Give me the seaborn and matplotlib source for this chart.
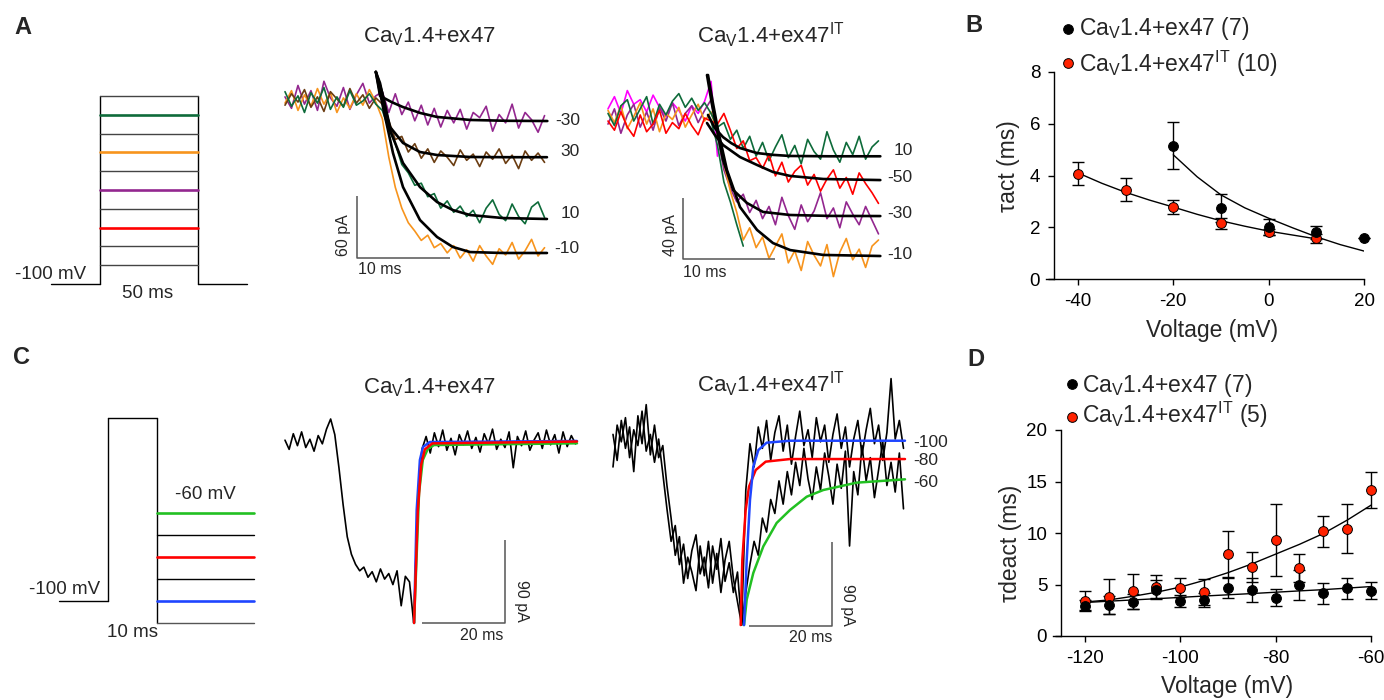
import numpy as np
import matplotlib
matplotlib.use("Agg")
import matplotlib.pyplot as plt
from matplotlib.lines import Line2D
import seaborn as sns

# ======================= DATA =======================
# ---- Panel B : activation time constants ----
act_v_wt = [-20, -10, 0, 10, 20]
act_tau_wt = [5.15, 2.75, 2.0, 1.8, 1.58]
act_err_wt = [0.9, 0.55, 0.3, 0.25, 0.0]
act_v_it = [-40, -30, -20, -10, 0, 10]
act_tau_it = [4.07, 3.45, 2.8, 2.15, 1.83, 1.58]
act_err_it = [0.45, 0.45, 0.27, 0.2, 0.12, 0.17]
act_fit_v_wt = [-20, -15, -10, -5, 0, 5, 10, 15, 20]
act_fit_wt = [4.8, 3.95, 3.25, 2.75, 2.35, 1.98, 1.63, 1.33, 1.08]
act_fit_v_it = [-40, -35, -30, -25, -20, -15, -10, -5, 0, 5, 10]
act_fit_it = [4.1, 3.7, 3.35, 3.05, 2.78, 2.5, 2.25, 2.04, 1.85, 1.7, 1.55]

# ---- Panel D : deactivation time constants ----
deact_v = [-120, -115, -110, -105, -100, -95, -90, -85, -80, -75, -70, -65, -60]
deact_tau_wt = [2.95, 3.0, 3.33, 4.5, 3.4, 3.5, 4.7, 4.47, 3.72, 4.95, 4.14, 4.63, 4.4]
deact_err_wt = [0.5, 0.85, 0.7, 0.9, 0.6, 0.7, 1.0, 1.2, 0.8, 1.45, 1.0, 1.0, 0.8]
deact_tau_it = [3.43, 3.82, 4.34, 4.8, 4.7, 4.24, 7.93, 6.67, 9.29, 6.57, 10.16, 10.42, 14.14]
deact_err_it = [0.94, 1.7, 1.7, 1.15, 0.9, 1.25, 2.3, 1.45, 3.5, 1.35, 1.5, 2.35, 1.75]
deact_fit_v = [-120, -115, -110, -105, -100, -95, -90, -85, -80, -75, -70, -65, -60]
deact_fit_wt = [3.25, 3.38, 3.5, 3.62, 3.75, 3.88, 4.0, 4.12, 4.25, 4.38, 4.5, 4.65, 4.8]
deact_fit_it = [3.3, 3.5, 3.85, 4.25, 4.75, 5.4, 6.15, 7.0, 7.95, 8.9, 9.95, 11.25, 12.7]

# ---- Panel A : activation current traces (ms, pA) ----
tA_wt = list(np.round(np.arange(41) * 0.7, 2))
trA_wt_m30 = [3, -8, 14, -4, 9, -10, 18, 2, -6, 12, -9, 5, 16, -3, 4, 8, -12, 6, -14, -2,
              -20, -5, -24, -8, -26, -10, -22, -9, -28, -12, -17, -6, -30, -14, -22, -4, -27, -12, -19, -31, -15]
trA_wt_30 = [-5, 6, -2, 10, -7, 3, -11, 8, 1, -6, 11, -3, 5, -8, 2, -4, -20, -38, -35, -50,
             -42, -56, -47, -60, -49, -55, -63, -48, -58, -52, -64, -50, -57, -47, -61, -53, -66, -49, -58, -51, -60]
trA_wt_10 = [8, -6, 4, -12, 7, -3, 12, -9, 3, -7, 9, -5, -1, 6, -4, -10, -28, -42, -62, -70,
             -82, -80, -93, -90, -104, -97, -108, -102, -112, -106, -118, -104, -96, -110, -116, -100, -112, -119, -103, -98, -113]
trA_wt_m10 = [-3, 9, -10, 5, -6, 11, -4, 7, -12, 2, -8, 6, -5, 10, -2, -18, -55, -84, -104, -118,
              -126, -135, -130, -142, -138, -147, -140, -152, -144, -155, -140, -150, -158, -143, -149, -137, -153, -145, -134, -150, -142]
fitA_wt_m30_t = [9.8, 10.25, 11.5, 12.7, 14.6, 16.4, 20.0, 24.0, 28.3]
fitA_wt_m30 = [27, 4, -2, -6.7, -12.5, -16.3, -19.2, -20.0, -20.2]
fitA_wt_30_t = [9.8, 10.46, 11.33, 12.73, 14.56, 16.4, 19.96, 24.0, 28.26]
fitA_wt_30 = [27, 7.7, -26, -41.3, -50, -52.9, -54.8, -55, -55]
fitA_wt_10_t = [9.8, 10.25, 11.33, 12.73, 14.56, 16.4, 18.1, 19.96, 23.5, 28.26]
fitA_wt_10 = [27, 16.3, -28.8, -60.6, -83.7, -98.1, -105.8, -110.6, -113.5, -114.4]
fitA_wt_m10_t = [9.8, 10.57, 11.65, 12.73, 14.56, 16.4, 18.1, 19.96, 23.5, 28.26]
fitA_wt_m10 = [27, -6.7, -51, -83.7, -115.4, -131.7, -141.3, -146.2, -147.1, -147.1]
labelsA_wt = ["-30", "30", "10", "-10"]
labelsA_wt_y = [-19.7, -50, -109.6, -142.8]

tA_it = list(np.round(np.arange(43) * 0.7, 2))
trA_it_m50 = [-2, -8, 4, -6, -12, 2, -9, -4, 5, -10, -3, -7, 3, -5, -11, 0, -2, -4, 3, -8,
              -20, -15, -28, -26, -33, -24, -38, -29, -42, -35, -31, -44, -37, -48, -40, -34, -46, -39, -50, -36, -43, -49, -56]
trA_it_10 = [3, -5, 8, 12, -2, 6, 14, -4, 9, 2, 11, 16, 7, 13, 5, 10, 3, -6, -3, -14,
             -8, -20, -12, -25, -16, -28, -19, -11, -26, -18, -30, -14, -22, -27, -9, -21, -29, -16, -24, -12, -27, -19, -15]
trA_it_m30 = [-4, 6, -10, 2, 9, -6, 4, -8, 7, -2, 10, -5, 3, 8, -3, 5, 12, -12, -34, -46,
              -55, -50, -62, -54, -66, -58, -70, -52, -64, -73, -57, -68, -61, -49, -66, -59, -72, -55, -63, -70, -58, -67, -76]
trA_it_m10 = [5, -3, 8, -7, 1, 10, -4, 6, -9, 3, -1, 7, -6, 2, 9, -2, 4, -10, -30, -48,
              -62, -80, -72, -85, -78, -92, -84, -76, -95, -87, -100, -81, -90, -97, -83, -104, -88, -79, -93, -86, -98, -84, -80]
trA_it_seg = [-2, -18, -42, -55, -70, -84]          # samples 16..21
trA_it_mag = [6, 14, 3, 18, 9, 12, 4, 15, 7, 1, 10, 5, -2, 8, 3, 11, 24, -25]   # samples 0..17
fitA_it_10_t = [10.87, 11.6, 12.5, 13.4, 14.35, 16.2, 18.0, 19.8, 24.0, 29.6]
fitA_it_10 = [2, -6.5, -12.5, -16.5, -19.7, -23.0, -24.2, -24.9, -25.1, -25.1]
fitA_it_m50_t = [10.76, 11.6, 12.5, 14.35, 16.2, 17.93, 19.8, 23.4, 29.6]
fitA_it_m50 = [-3.3, -11, -17.7, -25.6, -30.8, -35.4, -38, -40, -40.7]
fitA_it_m30_t = [10.76, 11.3, 11.85, 12.5, 13.6, 15.1, 16.85, 19.8, 24.0, 29.6]
fitA_it_m30 = [28.2, 9, -7.9, -27.5, -47.2, -55.7, -61.6, -63.6, -64.2, -64.3]
fitA_it_m10_t = [10.87, 11.4, 11.96, 12.93, 14.35, 16.2, 17.93, 19.8, 23.4, 29.6]
fitA_it_m10 = [28.2, 10, -7.9, -34.1, -58.4, -73.4, -82, -86.6, -89.8, -90.5]
labelsA_it = ["10", "-50", "-30", "-10"]
labelsA_it_y = [-21.6, -39.0, -62.3, -89.2]

# ---- Panel C : tail current traces (ms, pA) ----
tC = list(np.arange(71) * 1.0)
trC_wt = [2, -8, 9, -4, 11, -6, 3, -10, 7, -2, 14, 25, 8, -28, -68, -103, -122, -133, -140, -136,
          -147, -141, -152, -138, -149, -143, -155, -140, -178, -146, -152, -196, -70, -8, 6, -12, 10, -5, 13, -9,
          4, -14, 8, -3, 12, -7, 5, -11, 9, -2, 14, -8, 3, -6, 11, -28, 6, -4, 12, -9,
          2, 10, -7, 13, -3, 8, -12, 11, -5, 7, -2]
fitC_wt_blue_t = [31.1, 31.73, 32.5, 33.25, 34.9, 70.36]
fitC_wt_blue = [-196.7, -73.9, -19.6, -5.4, 0, 1.1]
fitC_wt_red_t = [31.1, 32.0, 32.8, 33.7, 35.5, 70.36]
fitC_wt_red = [-196.7, -75, -25, -8, -1.5, 0.5]
fitC_wt_green_t = [31.1, 32.3, 33.2, 34.4, 35.9, 70.36]
fitC_wt_green = [-196.7, -55.4, -19.6, -7.6, -3.3, -1.4]

trC_it_1 = [-15, 30, 12, 38, -5, 25, 8, 45, 2, 20, -10, 15, -22, -60, -95, -78, -120, -98, -135, -105,
            -88, -130, -112, -145, -100, -125, -92, -138, -118, -150, -128, -185, -40, 10, -15, 28, 5, 35, -8, 22,
            40, 2, 30, -12, 18, 45, 8, 25, -5, 38, 12, 30, -10, 20, 42, 5, 28, -15, 15, 35,
            -2, 25, 48, 10, 30, -8, 22, 80, 15, 35, 5]
trC_it_2 = [20, -8, 35, 5, 28, -20, 40, 10, 52, -2, 30, -5, 8, -35, -70, -110, -90, -140, -112, -128,
            -148, -100, -132, -95, -140, -108, -150, -115, -95, -135, -160, -185, -150, -120, -95, -110, -70, -85, -50, -65,
            -30, -55, -20, -45, -10, -35, 5, -28, -50, -15, -40, 0, -25, -55, -12, -38, 2, -100, -20, -45,
            8, -30, -5, -48, -18, 12, -35, -10, -42, 0, -60]
fitC_it_blue_t = [31.57, 32.22, 33.01, 33.81, 35.02, 37.03, 42.65, 70.36]
fitC_it_blue = [-185, -115, -50.5, -14.7, 3.2, 11.1, 13.2, 13.2]
fitC_it_red_t = [30.77, 31.16, 31.97, 32.77, 34.39, 36.8, 42.65, 70.36]
fitC_it_red = [-185, -115, -61.3, -36.2, -18.3, -9.3, -6.5, -6.5]
fitC_it_green_t = [31.57, 32.22, 33.81, 36.22, 39.44, 42.65, 46.67, 50.68, 58.72, 70.36]
fitC_it_green = [-185, -157.6, -129, -100.4, -75.2, -61.3, -47, -39.8, -31.9, -28.3]
labelsC_it = ["-100", "-80", "-60"]
labelsC_it_y = [11.3, -8.6, -31.2]

# ---- voltage protocols ----
protoA_time = [-25, 0, 50, 75]          # ms
protoA_ranks = [1, 2, 3, 4, 5, 6, 7, 8, 9, 10]
protoC_time = [-10, 0, 10, 29.8]        # ms
protoC_hold = -100
protoC_pulse = -17
protoC_levels = [-60, -70, -80, -90, -100, -110]

# ======================= STYLE =======================
sns.set_style("ticks")
plt.rcParams['font.family'] = ['Liberation Sans', 'DejaVu Sans']
plt.rcParams['mathtext.fontset'] = 'custom'
plt.rcParams['mathtext.rm'] = 'Liberation Sans'
plt.rcParams['mathtext.it'] = 'Liberation Sans:italic'
plt.rcParams['mathtext.bf'] = 'Liberation Sans:bold'
plt.rcParams['axes.unicode_minus'] = False

W, H = 1384, 700
fig = plt.figure(figsize=(W / 100, H / 100), dpi=100)

PURPLE = '#93278f'; BROWN = '#6b3d12'; DGREEN = '#0e6b3a'; ORANGE = '#f7941d'
RED = '#ff0000'; MAGENTA = '#ff00ff'; BLUE = '#1f45ff'; LGREEN = '#22c022'
PT_RED = '#ff2200'

def ftext(x, y, s, **kw):
    fig.text(x / W, 1 - y / H, s, **kw)

def trace_axes(x0, x1, ytop, ybot, ox, oy, sx, sy):
    ax = fig.add_axes([x0 / W, 1 - ybot / H, (x1 - x0) / W, (ybot - ytop) / H])
    ax.set_xlim((x0 - ox) / sx, (x1 - ox) / sx)
    ax.set_ylim((oy - ybot) / sy, (oy - ytop) / sy)
    ax.set_axis_off()
    return ax

def line(ax, x, y, color, lw, z=2):
    sns.lineplot(x=list(x), y=list(y), ax=ax, color=color, linewidth=lw,
                 estimator=None, sort=False, legend=False, zorder=z)

SB = '#555555'
def scalebar(ax, tx, iy, dt, di, left=True):
    if left:
        xs, ys = [tx, tx, tx + dt], [iy + di, iy, iy]
    else:
        xs, ys = [tx - dt, tx, tx], [iy, iy, iy + di]
    ax.plot(xs, ys, color=SB, lw=1.1, solid_capstyle='butt', clip_on=False)

def letter(x, y, s):
    ftext(x, y, s, fontsize=17, fontweight='bold', ha='center', va='center')

TITLE_WT = r"Ca$_\mathrm{V}$1.4+ex47"
TITLE_IT = r"Ca$_\mathrm{V}$1.4+ex47$^\mathrm{IT}$"
TR_LW = 1.2

# ======================= PANEL A =======================
letter(23, 28, "A")
axPA = trace_axes(40, 260, 80, 300, 100, 284, 1.96, 18.8)
protoA_colors = ['#444444', '#444444', RED, '#444444', PURPLE, '#444444', ORANGE, '#444444', DGREEN, '#444444']
axPA.plot([protoA_time[0], protoA_time[1]], [0, 0], color='black', lw=1.0)
axPA.plot([protoA_time[2], protoA_time[3]], [0, 0], color='black', lw=1.0)
axPA.plot([protoA_time[1], protoA_time[1]], [0, protoA_ranks[-1]], color='black', lw=1.0)
axPA.plot([protoA_time[2], protoA_time[2]], [0, protoA_ranks[-1]], color='black', lw=1.0)
for r, c in zip(protoA_ranks, protoA_colors):
    axPA.plot([protoA_time[1], protoA_time[2]], [r, r], color=c,
              lw=1.9 if c != '#444444' else 1.0)
axPA.text(-7.1, 0.53, "-100 mV", fontsize=13.5, ha='right', va='center')
axPA.text(24.5, -0.48, "50 ms", fontsize=13.5, ha='center', va='center')

axA1 = trace_axes(280, 590, 50, 290, 285, 100, 9.27, 1.04)
line(axA1, tA_wt, trA_wt_m30, PURPLE, TR_LW)
line(axA1, tA_wt, trA_wt_m10, ORANGE, TR_LW)
line(axA1, tA_wt, trA_wt_30, BROWN, TR_LW)
line(axA1, tA_wt, trA_wt_10, DGREEN, TR_LW)
for tt, yy in [(fitA_wt_m30_t, fitA_wt_m30), (fitA_wt_30_t, fitA_wt_30),
               (fitA_wt_10_t, fitA_wt_10), (fitA_wt_m10_t, fitA_wt_m10)]:
    line(axA1, tt, yy, 'black', 1.9, z=4)
for s, yv in zip(labelsA_wt, labelsA_wt_y):
    axA1.text(31.8, yv, s, fontsize=12.5, ha='right', va='center')
scalebar(axA1, 7.77, -152.2, 10, 60, left=True)
axA1.text(6.26, -129.8, "60 pA", fontsize=11.5, rotation=90, ha='center', va='center')
axA1.text(7.87, -162.5, "10 ms", fontsize=11.5, ha='left', va='center')
ftext(363, 42.7, TITLE_WT, fontsize=16, ha='left', va='baseline')

axA2 = trace_axes(600, 925, 50, 290, 608, 118, 9.2, 1.525)
line(axA2, tA_it[:18], trA_it_mag, MAGENTA, TR_LW)
line(axA2, tA_it, trA_it_m30, PURPLE, TR_LW)
line(axA2, tA_it, trA_it_m10, ORANGE, TR_LW)
line(axA2, tA_it, trA_it_10, DGREEN, TR_LW)
line(axA2, tA_it[16:22], trA_it_seg, DGREEN, TR_LW)
line(axA2, tA_it, trA_it_m50, RED, TR_LW)
for tt, yy in [(fitA_it_10_t, fitA_it_10), (fitA_it_m50_t, fitA_it_m50),
               (fitA_it_m30_t, fitA_it_m30), (fitA_it_m10_t, fitA_it_m10)]:
    line(axA2, tt, yy, 'black', 1.9, z=4)
for s, yv in zip(labelsA_it, labelsA_it_y):
    axA2.text(33.12, yv, s, fontsize=12.5, ha='right', va='center')
scalebar(axA2, 8.15, -92.5, 10, 40, left=True)
axA2.text(6.74, -76.7, "40 pA", fontsize=11.5, rotation=90, ha='center', va='center')
axA2.text(8.15, -101.3, "10 ms", fontsize=11.5, ha='left', va='center')
ftext(697, 43.3, TITLE_IT, fontsize=16, ha='left', va='baseline')

# ======================= PANEL C =======================
letter(22, 358, "C")
axPC = trace_axes(20, 270, 400, 650, 108, 601 - 100 * 2.2, 4.9, 2.2)
axPC.plot([protoC_time[0], protoC_time[1]], [protoC_hold, protoC_hold], color='black', lw=1.0)
axPC.plot([protoC_time[1], protoC_time[1]], [protoC_hold, protoC_pulse], color='black', lw=1.0)
axPC.plot([protoC_time[1], protoC_time[2]], [protoC_pulse, protoC_pulse], color='black', lw=1.0)
axPC.plot([protoC_time[2], protoC_time[2]], [protoC_pulse, min(protoC_levels)], color='black', lw=1.0)
protoC_colors = [LGREEN, 'black', RED, 'black', BLUE, '#555555']
for lv, c in zip(protoC_levels, protoC_colors):
    axPC.plot([protoC_time[2], protoC_time[3]], [lv, lv], color=c,
              lw=1.9 if c in (LGREEN, RED, BLUE) else 1.0)
axPC.text(19.8, -51.8, "-60 mV", fontsize=13.5, ha='center', va='center')
axPC.text(-1.6, -95, "-100 mV", fontsize=13.5, ha='right', va='center')
axPC.text(4.9, -114.5, "10 ms", fontsize=13.5, ha='center', va='center')

axC1 = trace_axes(280, 600, 400, 650, 285, 442, 4.15, 0.92)
line(axC1, tC, trC_wt, 'black', TR_LW)
line(axC1, fitC_wt_blue_t, fitC_wt_blue, BLUE, 1.8, z=4)
line(axC1, fitC_wt_green_t, fitC_wt_green, LGREEN, 1.8, z=4)
line(axC1, fitC_wt_red_t, fitC_wt_red, RED, 1.8, z=4)
scalebar(axC1, 53.0, -196.7, 20, 90, left=False)
axC1.text(56.9, -172.8, "90 pA", fontsize=11.5, rotation=270, ha='center', va='center')
axC1.text(52.5, -209.8, "20 ms", fontsize=11.5, ha='right', va='center')
ftext(363, 393.3, TITLE_WT, fontsize=16, ha='left', va='baseline')

axC2 = trace_axes(600, 960, 365, 650, 613, 453, 4.15, 0.93)
line(axC2, tC, trC_it_1, 'black', TR_LW)
line(axC2, tC, trC_it_2, 'black', TR_LW)
line(axC2, fitC_it_green_t, fitC_it_green, LGREEN, 1.8, z=4)
line(axC2, fitC_it_red_t, fitC_it_red, RED, 1.8, z=4)
line(axC2, fitC_it_blue_t, fitC_it_blue, BLUE, 1.8, z=4)
for s, yv in zip(labelsC_it, labelsC_it_y):
    axC2.text(72.3, yv, s, fontsize=12.5, ha='left', va='center')
scalebar(axC2, 52.8, -186, 20, 90, left=False)
axC2.text(56.5, -163.4, "90 pA", fontsize=11.5, rotation=270, ha='center', va='center')
axC2.text(52.8, -198.4, "20 ms", fontsize=11.5, ha='right', va='center')
ftext(697, 391.7, TITLE_IT, fontsize=16, ha='left', va='baseline')

# ======================= PANELS B & D =======================
def style_xy(ax, yspine_at):
    sns.despine(ax=ax)
    for s in ['left', 'bottom']:
        ax.spines[s].set_linewidth(1.0)
        ax.spines[s].set_color('black')
    ax.spines['left'].set_position(('data', yspine_at))
    ax.tick_params(direction='out', length=4, width=1, labelsize=13.5, pad=6, colors='black')
    ax.set_xlabel(''); ax.set_ylabel('')
    ax.patch.set_alpha(0)

def legend_rows(rows):
    for (mx, my, tx, ty, col, txt) in rows:
        fig.add_artist(Line2D([mx / W], [1 - my / H], transform=fig.transFigure, marker='o',
                              markersize=7, markerfacecolor=col, markeredgecolor='black',
                              markeredgewidth=0.7, linestyle='none'))
        ftext(tx, ty, txt, fontsize=16.5, ha='left', va='baseline')

def points(ax, x, y, err, col, z):
    ax.errorbar(x, y, yerr=err, fmt='none', ecolor='black', elinewidth=1,
                capsize=4, capthick=1, zorder=3, clip_on=False)
    sns.scatterplot(x=x, y=y, ax=ax, color=col, edgecolor='black', linewidth=0.7,
                    s=50, zorder=z, clip_on=False, legend=False)

# ---- B ----
letter(974, 26, "B")
axB = fig.add_axes([1046 / W, 1 - 279 / H, (1364 - 1046) / W, (279 - 72) / H])
axB.set_xlim(-46.7, 20); axB.set_ylim(0, 8)
line(axB, act_fit_v_it, act_fit_it, 'black', 1.0)
line(axB, act_fit_v_wt, act_fit_wt, 'black', 1.0)
points(axB, act_v_it, act_tau_it, act_err_it, PT_RED, 5)
points(axB, act_v_wt, act_tau_wt, act_err_wt, 'black', 6)
axB.set_xticks([-40, -20, 0, 20]); axB.set_yticks([0, 2, 4, 6, 8])
style_xy(axB, -45)
ftext(1009, 166, "τact (ms)", fontsize=16.5, rotation=90, ha='center', va='center')
ftext(1212, 331, "Voltage (mV)", fontsize=16.5, ha='center', va='center')
legend_rows([(1068, 29, 1079, 35, 'black', TITLE_WT + " (7)"),
             (1068, 63, 1079, 71.7, PT_RED, TITLE_IT + " (10)")])

# ---- D ----
letter(976, 360, "D")
axD = fig.add_axes([1053 / W, 1 - 636 / H, (1371 - 1053) / W, (636 - 430) / H])
axD.set_xlim(-126.7, -60); axD.set_ylim(0, 20)
line(axD, deact_fit_v, deact_fit_it, 'black', 1.0)
line(axD, deact_fit_v, deact_fit_wt, 'black', 1.0)
points(axD, deact_v, deact_tau_it, deact_err_it, PT_RED, 5)
points(axD, deact_v, deact_tau_wt, deact_err_wt, 'black', 6)
axD.set_xticks([-120, -100, -80, -60]); axD.set_yticks([0, 5, 10, 15, 20])
style_xy(axD, -125)
ftext(1010, 543, "τdeact (ms)", fontsize=16.5, rotation=90, ha='center', va='center')
ftext(1227, 698, "Voltage (mV)", fontsize=16.5, ha='center', va='bottom')
legend_rows([(1072, 384, 1082, 391.7, 'black', TITLE_WT + " (7)"),
             (1072, 417, 1082, 423.3, PT_RED, TITLE_IT + " (5)")])

fig.savefig("out.png", dpi=100, facecolor='white')
